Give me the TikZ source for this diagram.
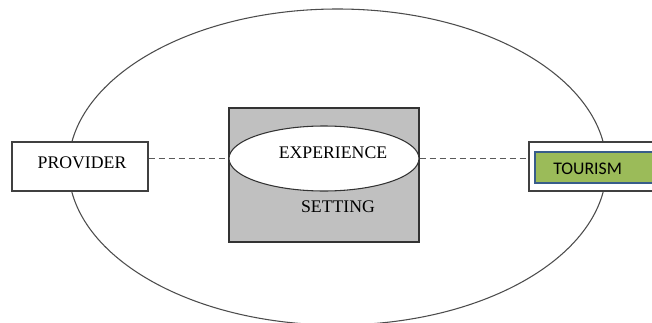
\documentclass[tikz,border=0pt]{standalone}
\usepackage{fontspec}
\setmainfont{Liberation Serif}
\newfontfamily\boxfont{Carlito}
\usetikzlibrary{shapes.geometric}

\definecolor{settinggray}{RGB}{192,192,192}
\definecolor{tourgreen}{RGB}{155,187,89}
\definecolor{tourblue}{RGB}{56,93,138}

\tikzset{
    plainbox/.style={draw=black!75, line width=0.8pt, fill=white, minimum width=102pt, minimum height=36.75pt, inner sep=0pt},
    link/.style={draw=black!65, line width=0.8pt, dash pattern=on 4.5pt off 3pt},
    label/.style={font=\fontsize{13.3}{15}\selectfont, inner sep=0pt}
}

\begin{document}
\begin{tikzpicture}[x=0.75pt, y=0.75pt]
    \useasboundingbox (0,0) rectangle (652,322);

    % outer ring
    \draw [black!70, line width=0.8pt] (337.5,155) ellipse (269 and 158);

    % setting with the experience inside
    \node [draw=black!80, line width=0.9pt, fill=settinggray, minimum width=142.5pt, minimum height=100.5pt] (setting) at (324,147) {};
    \node [ellipse, draw=black!80, line width=0.8pt, fill=white, minimum width=142.5pt, minimum height=48.75pt, inner sep=0pt] (exp) at (324,163.5) {};
    \node [label] (exptext) at (333,169) {EXPERIENCE};
    \node [label] (settext) at (338,115) {SETTING};

    % the two ends
    \node [plainbox] (provider) at (80,155.5) {};
    \node [label] (provtext) at (82,159) {PROVIDER};

    \node [plainbox] (tourism) at (597,155.5) {};
    \node [draw=tourblue, line width=0.9pt, fill=tourgreen, minimum width=97.5pt, minimum height=23.25pt, inner sep=0pt] (tourfill) at (600,154.5) {};
    \node [label, font=\boxfont\fontsize{13.3}{15}\selectfont, anchor=west] (tourtext) at (553,153) {TOURISM};

    \draw [link] (provider.east |- exp.west) -- (exp.west);
    \draw [link] (exp.east) -- (exp.east -| tourism.west);
\end{tikzpicture}
\end{document}
